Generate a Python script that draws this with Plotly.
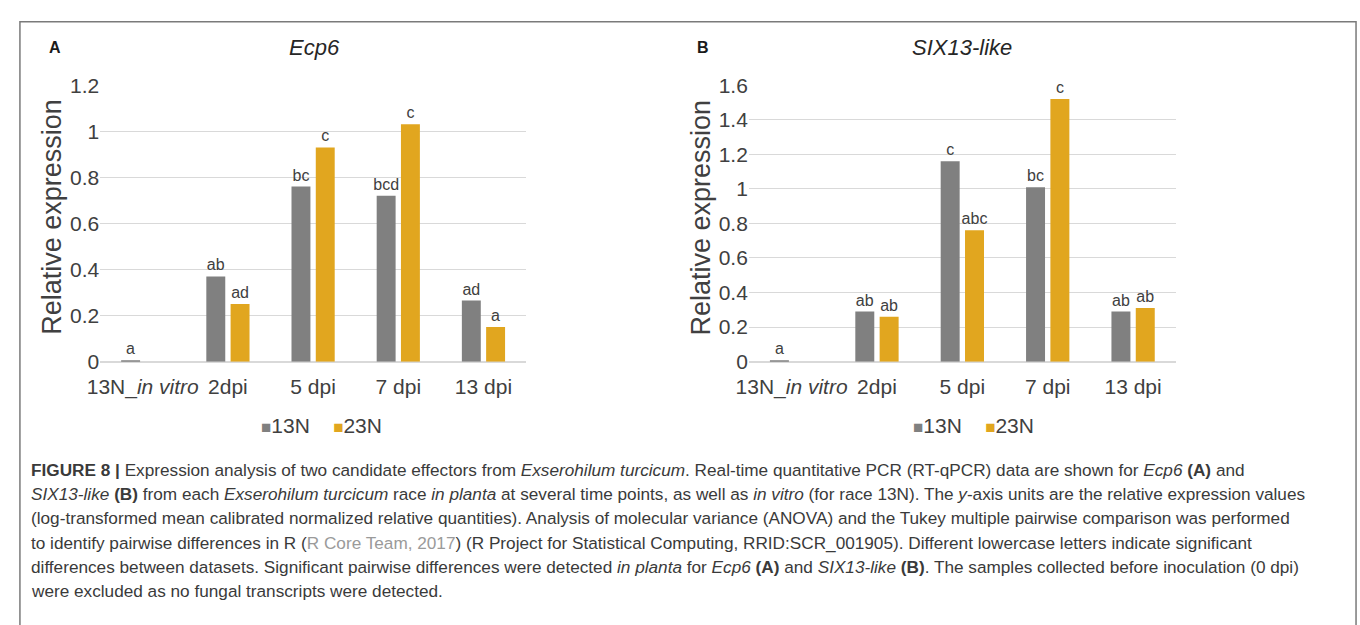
import plotly.graph_objects as go

W, H = 1360, 625

# ---------------- data ----------------
categories = ["13N_in vitro", "2dpi", "5 dpi", "7 dpi", "13 dpi"]
tick_labels = ["13N_<i>in vitro</i>", "2dpi", "5 dpi", "7 dpi", "13 dpi"]
series_names = ["13N", "23N"]

ecp6_13N = [0.006, 0.37, 0.76, 0.72, 0.265]
ecp6_23N = [None, 0.25, 0.93, 1.03, 0.15]
ecp6_13N_letters = ["a", "ab", "bc", "bcd", "ad"]
ecp6_23N_letters = [None, "ad", "c", "c", "a"]

six13_13N = [0.006, 0.29, 1.16, 1.01, 0.29]
six13_23N = [None, 0.26, 0.76, 1.52, 0.31]
six13_13N_letters = ["a", "ab", "c", "bc", "ab"]
six13_23N_letters = [None, "ab", "abc", "c", "ab"]

panel_titles = ["Ecp6", "SIX13-like"]
panel_letters = ["A", "B"]
y_title = "Relative expression"

caption_lines = [
    "<b>FIGURE 8 |</b> Expression analysis of two candidate effectors from <i>Exserohilum turcicum</i>. Real-time quantitative PCR (RT-qPCR) data are shown for <i>Ecp6</i> <b>(A)</b> and",
    "<i>SIX13-like</i> <b>(B)</b> from each <i>Exserohilum turcicum</i> race <i>in planta</i> at several time points, as well as <i>in vitro</i> (for race 13N). The <i>y</i>-axis units are the relative expression values",
    "(log-transformed mean calibrated normalized relative quantities). Analysis of molecular variance (ANOVA) and the Tukey multiple pairwise comparison was performed",
    "to identify pairwise differences in R (<span style='color:#9a9a9a'>R Core Team, 2017</span>) (R Project for Statistical Computing, RRID:SCR_001905). Different lowercase letters indicate significant",
    "differences between datasets. Significant pairwise differences were detected <i>in planta</i> for <i>Ecp6</i> <b>(A)</b> and <i>SIX13-like</i> <b>(B)</b>. The samples collected before inoculation (0 dpi)",
    "were excluded as no fungal transcripts were detected.",
]

# ---------------- style ----------------
GRAY = "#808080"
GOLD = "#E1A61F"
TXT = "#404040"
GRID = "#d9d9d9"
FONT = "Liberation Sans, Arial, sans-serif"


def px(x):
    return x / W


def py(y):
    return 1 - y / H


fig = go.Figure()

panels = [
    dict(v13=ecp6_13N, v23=ecp6_23N, l13=ecp6_13N_letters, l23=ecp6_23N_letters,
         xa="x", ya="y"),
    dict(v13=six13_13N, v23=six13_23N, l13=six13_13N_letters, l23=six13_23N_letters,
         xa="x2", ya="y2"),
]

for p in panels:
    for vals, lets, name, col in [(p["v13"], p["l13"], series_names[0], GRAY),
                                  (p["v23"], p["l23"], series_names[1], GOLD)]:
        fig.add_trace(go.Bar(
            x=categories, y=vals, name=name, marker_color=col,
            marker_line_width=0,
            text=lets, textposition="outside",
            textfont=dict(size=16, color=TXT, family=FONT),
            cliponaxis=False, showlegend=False,
            xaxis=p["xa"], yaxis=p["ya"],
        ))

top_y, zero_y = 76, 363
axis_common = dict(
    showline=True, linecolor=GRID, linewidth=1, ticks="",
    tickfont=dict(size=21, color=TXT, family=FONT),
    tickmode="array", tickvals=categories, ticktext=tick_labels,
    ticklabelstandoff=6, showgrid=False, fixedrange=True,
)
yaxis_common = dict(
    showgrid=True, gridcolor=GRID, gridwidth=1, zeroline=True,
    zerolinecolor=GRID, zerolinewidth=1, showline=False, ticks="",
    tickfont=dict(size=21, color=TXT, family=FONT), dtick=0.2,
    fixedrange=True,
)

fig.update_layout(
    width=W, height=H, margin=dict(l=0, r=0, t=0, b=0),
    paper_bgcolor="white", plot_bgcolor="white",
    barmode="group", bargap=0.43, bargroupgap=0.22,
    font=dict(family=FONT, color=TXT),
    xaxis=dict(domain=[px(88), px(518)], anchor="y", **axis_common),
    yaxis=dict(domain=[py(zero_y), py(top_y)], anchor="x", range=[0, 1.2], **yaxis_common),
    xaxis2=dict(domain=[px(743), px(1174)], anchor="y2", **axis_common),
    yaxis2=dict(domain=[py(zero_y), py(top_y)], anchor="x2", range=[0, 1.6], **yaxis_common),
)
fig.update_traces(constraintext="none")

annotations = []
title_x = [304, 958]
letter_x = [42, 697]
ytitle_x = [40, 695]
legend_x = [311, 970]
for i in range(2):
    annotations.append(dict(x=px(title_x[i]), y=py(37), xref="paper", yref="paper",
                            text=f"<i>{panel_titles[i]}</i>", showarrow=False,
                            font=dict(size=22, color="#262626", family=FONT),
                            xanchor="center", yanchor="middle"))
    annotations.append(dict(x=px(letter_x[i]), y=py(37), xref="paper", yref="paper",
                            text=f"<b>{panel_letters[i]}</b>", showarrow=False,
                            font=dict(size=16, color="#1a1a1a", family=FONT),
                            xanchor="center", yanchor="middle"))
    annotations.append(dict(x=px(ytitle_x[i]), y=py(213), xref="paper", yref="paper",
                            text=y_title, showarrow=False, textangle=-90,
                            font=dict(size=27, color=TXT, family=FONT),
                            xanchor="center", yanchor="middle"))
    leg = (f"<span style='color:{GRAY};font-size:17px'>■</span>{series_names[0]}"
           f"    <span style='color:{GOLD};font-size:17px'>■</span>{series_names[1]}")
    annotations.append(dict(x=px(legend_x[i]), y=py(429), xref="paper", yref="paper",
                            text=leg, showarrow=False,
                            font=dict(size=21, color=TXT, family=FONT),
                            xanchor="center", yanchor="middle"))

for k, line in enumerate(caption_lines):
    annotations.append(dict(x=px(16), y=py(475 + 25.3 * k), xref="paper", yref="paper",
                            text=line, showarrow=False, align="left",
                            font=dict(size=17.2, color="#3a3a3a", family=FONT),
                            xanchor="left", yanchor="middle"))

fig.update_layout(annotations=annotations)

fig.add_shape(type="rect", xref="paper", yref="paper",
              x0=px(7), x1=px(1356), y0=py(640), y1=py(10),
              line=dict(color="#7a7a7a", width=1.5), fillcolor="rgba(0,0,0,0)")

fig.write_html(
    "out.html",
    config={"displayModeBar": False},
    post_script=(
        "document.body.style.margin='0';document.body.style.padding='0';"
        "document.body.style.overflow='hidden';"
    ),
)
